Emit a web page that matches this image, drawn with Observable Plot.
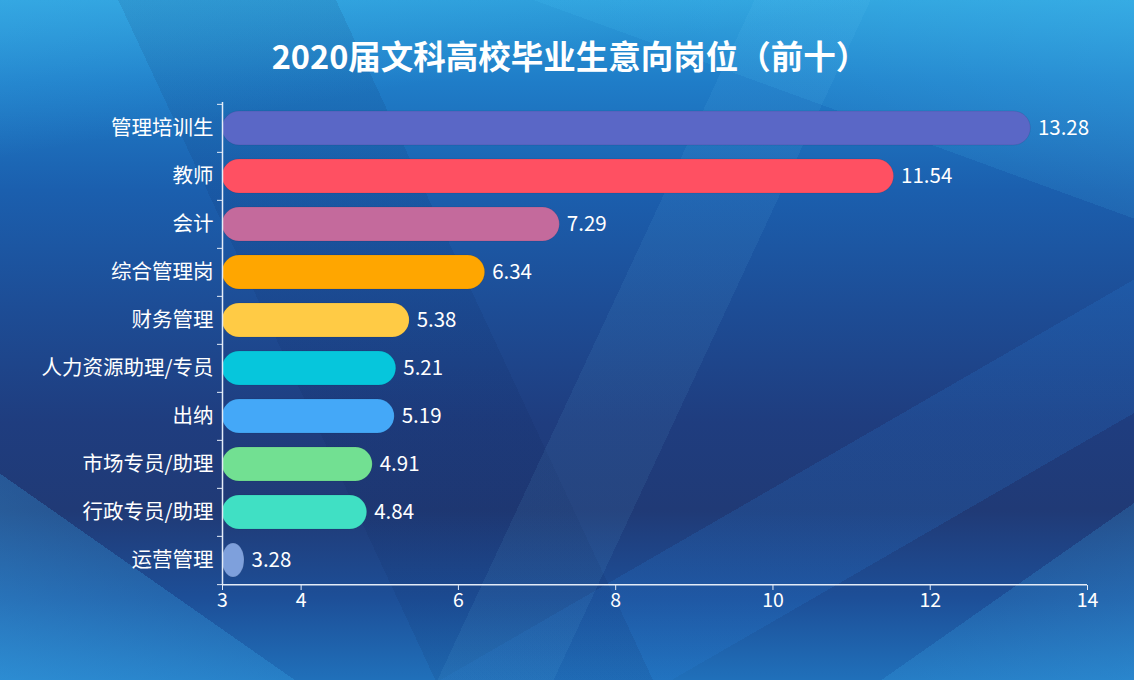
<!DOCTYPE html>
<html>
<head>
<meta charset="utf-8">
<script src="https://cdn.jsdelivr.net/npm/d3@7"></script>
<script src="https://cdn.jsdelivr.net/npm/@observablehq/plot@0.6"></script>
<style>
  html, body { margin: 0; padding: 0; }
  body { width: 1134px; height: 680px; overflow: hidden; font-family: "Noto Sans CJK SC", "Noto Sans", sans-serif; }
  #wrap {
    position: relative; width: 1134px; height: 680px;
    background:
      linear-gradient(115deg, rgba(255,255,255,0) 0%, rgba(255,255,255,0) 52%, rgba(120,215,255,0.07) 52%, rgba(120,215,255,0.07) 60%, rgba(255,255,255,0) 60%),
      linear-gradient(65deg, rgba(0,0,0,0) 0%, rgba(0,0,0,0) 30%, rgba(10,30,80,0.10) 30%, rgba(10,30,80,0.10) 45%, rgba(0,0,0,0) 45%),
      linear-gradient(150deg, rgba(0,0,0,0) 0%, rgba(0,0,0,0) 70%, rgba(40,130,220,0.18) 70%, rgba(40,130,220,0.18) 80%, rgba(0,0,0,0) 80%),
      linear-gradient(35deg, rgba(60,175,240,0.45) 0%, rgba(60,175,240,0.25) 14%, rgba(60,175,240,0) 14%),
      linear-gradient(-35deg, rgba(60,175,240,0.35) 0%, rgba(60,175,240,0.2) 12%, rgba(60,175,240,0) 12%),
      linear-gradient(200deg, rgba(80,210,255,0.3) 0%, rgba(80,210,255,0.1) 20%, rgba(80,210,255,0) 20%),
      linear-gradient(170deg, rgba(70,190,245,0.35) 0%, rgba(70,190,245,0) 18%),
      linear-gradient(180deg, #2b9bd8 0%, #1f7dc8 12%, #1b5fae 28%, #1d4d96 45%, #1f3d7f 62%, #203a76 75%, #1d4f98 88%, #2070ba 100%);
  }
  #title {
    position: absolute; left: 10px; top: 35px; width: 1120px; text-align: center;
    color: #fff; font-size: 32.5px; font-weight: bold; line-height: 40px;
    font-family: "Noto Sans CJK SC", sans-serif;
  }
  #chart { position: absolute; left: 0; top: 0; }
</style>
</head>
<body>
<div id="wrap">
  <div id="title">2020届文科高校毕业生意向岗位（前十）</div>
  <div id="chart"></div>
</div>
<script>
const categories = ["管理培训生", "教师", "会计", "综合管理岗", "财务管理", "人力资源助理/专员", "出纳", "市场专员/助理", "行政专员/助理", "运营管理"];
const values = [13.28, 11.54, 7.29, 6.34, 5.38, 5.21, 5.19, 4.91, 4.84, 3.28];
const colors = ["#5a67c6", "#ff5062", "#c46a9c", "#ffa600", "#ffcb45", "#06c6dc", "#44a8f8", "#72e092", "#40e0c4", "#7ea0dc"];
const xTicks = [3, 4, 6, 8, 10, 12, 14];
const xDomain = [3, 14];

const data = categories.map((c, i) => ({category: c, value: values[i], color: colors[i]}));

const W = 1134, H = 680, mTop = 102, mBottom = 95, mLeft = 222, mRight = 47;
const step = (H - mTop - mBottom) / categories.length;
const axisColor = "#e4ecf8";
const font = "Noto Sans CJK SC";

const chart = Plot.plot({
  width: W, height: H,
  marginTop: mTop, marginBottom: mBottom, marginLeft: mLeft, marginRight: mRight,
  style: {background: "transparent", color: "#fff", fontFamily: font, overflow: "visible"},
  x: {domain: xDomain},
  y: {domain: categories, paddingInner: 0.3, paddingOuter: 0.15},
  color: {type: "identity"},
  marks: [
    Plot.barX(data, {y: "category", x1: () => xDomain[0], x2: "value", fill: "color", rx: 17, stroke: "rgba(0,0,0,0.08)", strokeWidth: 1}),
    Plot.text(data, {y: "category", x: "value", text: d => d.value.toFixed(2), textAnchor: "start", dx: 7, fill: "#fff", fontSize: 20.5, fontFamily: font}),
    Plot.ruleX([xDomain[0]], {stroke: axisColor, strokeWidth: 1.5}),
    Plot.ruleY([categories[categories.length - 1]], {dy: step / 2, stroke: axisColor, strokeWidth: 1.5}),
    Plot.axisY({tickSize: 0, tickPadding: 9, fontSize: 20.5, fill: "#fff", label: null}),
    Plot.axisY({tickSize: 5, tickFormat: () => "", dy: -step / 2, stroke: axisColor, label: null}),
    Plot.axisY({ticks: [categories[categories.length - 1]], tickSize: 5, tickFormat: () => "", dy: step / 2, stroke: axisColor, label: null}),
    Plot.axisX({ticks: xTicks, tickSize: 5, tickPadding: 3, fontSize: 19.5, fill: "#fff", stroke: axisColor, label: null})
  ]
});
document.getElementById("chart").appendChild(chart);
</script>
</body>
</html>
